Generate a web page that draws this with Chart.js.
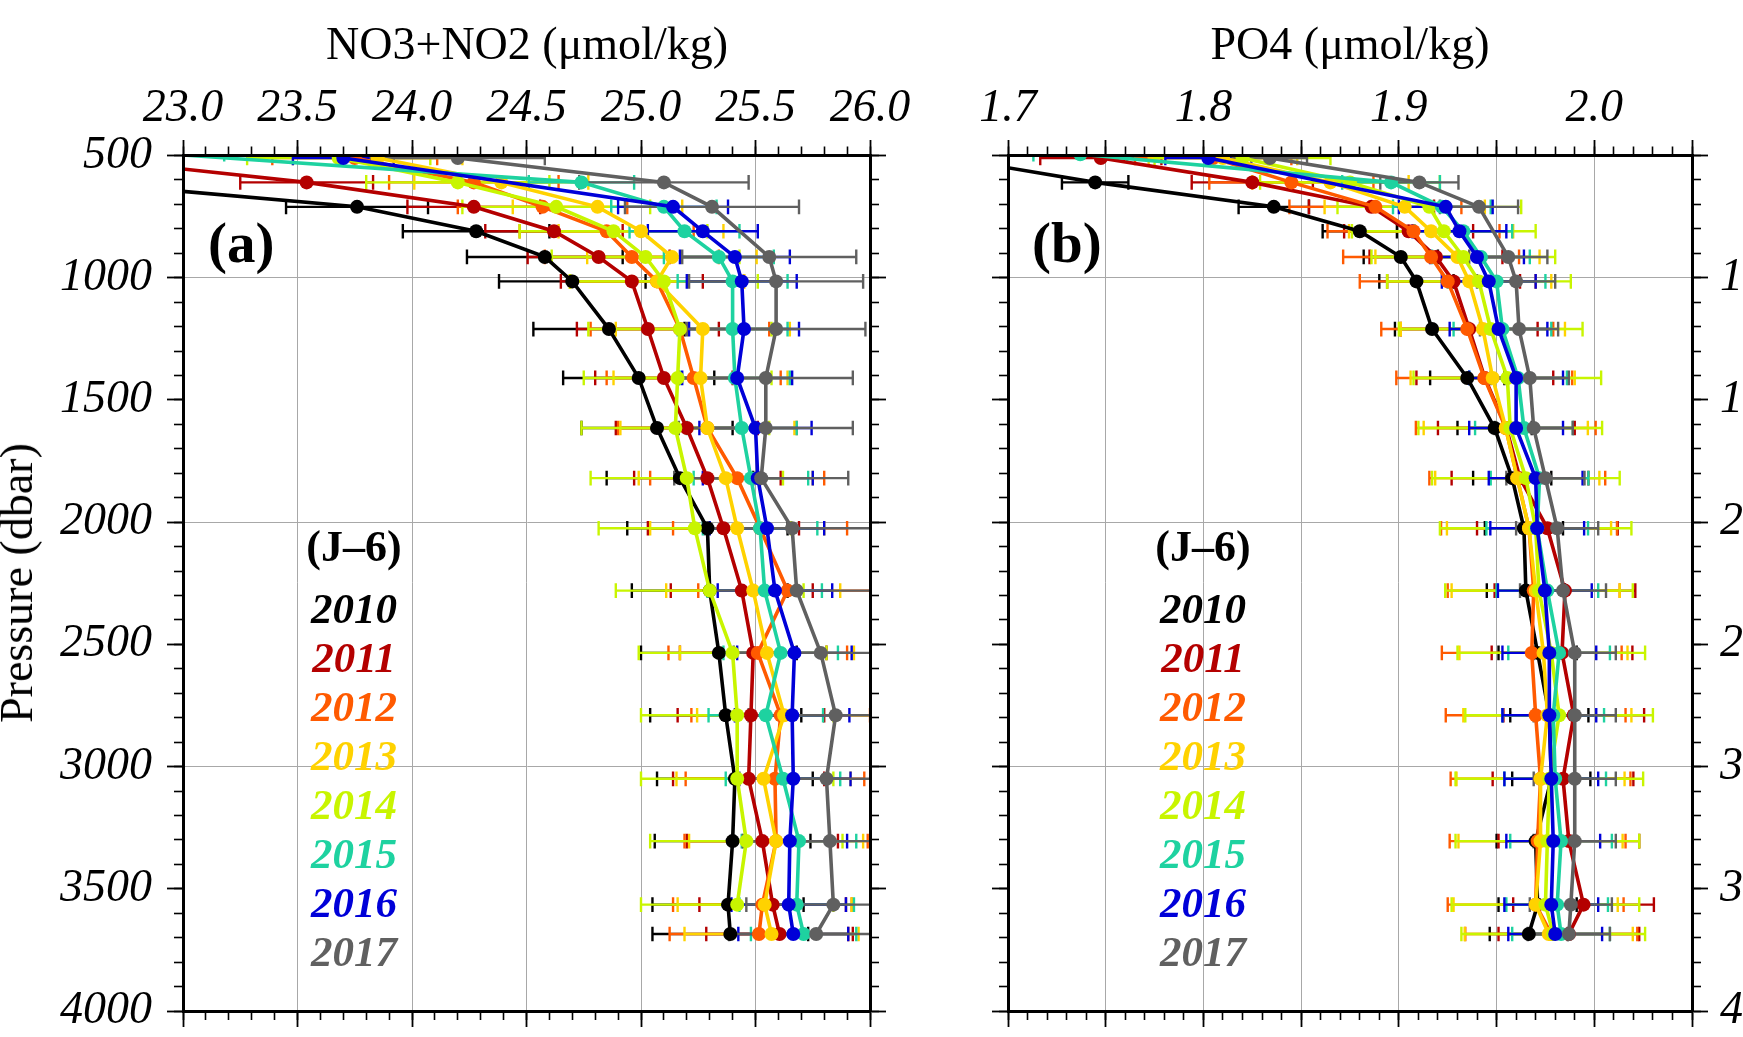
<!DOCTYPE html>
<html>
<head>
<meta charset="utf-8">
<script src="https://cdn.jsdelivr.net/npm/chart.js@4.4.1/dist/chart.umd.min.js"></script>
<style>
html,body{margin:0;padding:0;width:1743px;height:1037px;overflow:hidden;background:#fff;}
canvas{position:absolute;top:0;}
.t{position:absolute;font-family:"Liberation Serif","Times New Roman",serif;color:#000;white-space:nowrap;line-height:1;z-index:5;}
</style>
</head>
<body>
<canvas id="ca" width="960" height="1037" style="left:0px"></canvas>
<canvas id="cb" width="843" height="1037" style="left:900px"></canvas>
<canvas id="cc" width="400" height="1037" style="left:1660px"></canvas>
<script>
// ---------------- data ----------------
const years = ['2010','2011','2012','2013','2014','2015','2016','2017'];
const colors = ['#000000','#b40000','#ff5a00','#ffd200','#c8f500','#1ed2a0','#0000d8','#606060'];
const pressure     = [510,610,710,810,915,1015,1210,1410,1615,1820,2025,2280,2535,2790,3050,3305,3565,3685];
const pressure2015 = [495,610,710,810,915,1015,1210,1410,1615,1820,2025,2280,2535,2790,3050,3305,3565,3685];

const no3Ticks = [23.0,23.5,24.0,24.5,25.0,25.5,26.0];
const po4Ticks = [1.7,1.8,1.9,2.0];
const pressureTicks = [500,1000,1500,2000,2500,3000,3500,4000];

// NO3+NO2 (umol/kg)
const no3_2010 = [21.5,22.56,23.76,24.28,24.58,24.70,24.86,24.99,25.07,25.17,25.29,25.30,25.34,25.37,25.41,25.40,25.38,25.39];
const no3_2011 = [22.55,23.54,24.27,24.62,24.815,24.96,25.03,25.10,25.20,25.29,25.36,25.44,25.49,25.48,25.47,25.53,25.575,25.605];
const no3_2012 = [23.75,24.27,24.57,24.85,24.96,25.07,25.17,25.23,25.29,25.42,25.52,25.64,25.51,25.61,25.585,25.59,25.53,25.515];
const no3_2013 = [23.85,24.39,24.81,25.00,25.135,25.07,25.27,25.26,25.29,25.37,25.42,25.49,25.55,25.625,25.535,25.59,25.54,25.57];
const no3_2014 = [23.68,24.20,24.63,24.88,25.02,25.10,25.17,25.16,25.15,25.20,25.235,25.30,25.40,25.42,25.42,25.46,25.42,null];
const no3_2015 = [22.95,24.74,25.10,25.19,25.34,25.40,25.40,25.41,25.44,25.48,25.52,25.54,25.61,25.545,25.62,25.69,25.68,25.71];
const no3_2016 = [23.70,null,25.14,25.27,25.41,25.44,25.45,25.42,25.50,25.51,25.55,25.585,25.67,25.66,25.665,25.65,25.645,25.665];
const no3_2017 = [24.20,25.10,25.31,null,25.56,25.59,25.59,25.545,25.545,25.525,25.66,25.68,25.785,25.85,25.81,25.825,25.84,25.765];

const no3Err_2010 = [0.30,0.30,0.31,0.32,0.34,0.32,0.33,0.33,0.33,0.32,0.35,0.34,0.34,0.33,0.34,0.34,0.33,0.34];
const no3Err_2011 = [0.30,0.29,0.29,0.30,0.31,0.31,0.31,0.30,0.31,0.32,0.33,0.31,0.32,0.32,0.33,0.33,0.32,0.32];
const no3Err_2012 = [0.36,0.37,0.37,0.38,0.38,0.38,0.39,0.38,0.39,0.38,0.38,0.39,0.39,0.39,0.39,0.40,0.39,0.39];
const no3Err_2013 = [0.37,0.38,0.37,0.36,0.37,0.38,0.38,0.38,0.38,0.38,0.38,0.38,0.38,0.38,0.38,0.38,0.38,0.38];
const no3Err_2014 = [0.40,0.40,0.41,0.41,0.41,0.41,0.40,0.41,0.41,0.42,0.42,0.41,0.41,0.42,0.42,0.42,0.42,0.42];
const no3Err_2015 = [0.23,0.23,0.23,0.24,0.24,0.24,0.24,0.24,0.24,0.25,0.25,0.25,0.25,0.25,0.25,0.25,0.25,0.23];
const no3Err_2016 = [0.22,0.24,0.24,0.24,0.24,0.24,0.24,0.24,0.245,0.24,0.25,0.25,0.25,0.25,0.25,0.25,0.25,0.24];
const no3Err_2017 = [0.38,0.37,0.38,0.38,0.38,0.38,0.39,0.38,0.38,0.38,0.38,0.38,0.38,0.38,0.38,0.38,0.38,0.38];

// PO4 (umol/kg)
const po4_2010 = [1.67,1.7446,1.836,1.880,1.901,1.909,1.917,1.935,1.949,1.958,1.964,1.965,1.971,1.977,1.978,1.970,1.971,1.9665];
const po4_2011 = [1.7475,1.825,1.886,1.905,1.919,1.928,1.936,1.944,1.955,1.962,1.976,1.985,1.9835,1.9895,1.984,1.987,1.9945,1.987];
const po4_2012 = [1.805,1.845,1.888,1.9075,1.9165,1.925,1.935,1.9437,1.9547,1.9606,1.9666,1.969,1.968,1.970,1.9725,1.971,1.970,1.978];
const po4_2013 = [1.81,1.865,1.903,1.9165,1.930,1.936,1.943,1.948,1.9547,1.9606,1.9666,1.970,1.974,1.976,1.9725,1.9725,1.970,1.9767];
const po4_2014 = [1.82,1.875,1.9156,1.923,1.933,1.941,1.947,1.9555,1.957,1.965,1.970,1.9717,1.978,1.982,1.977,1.976,1.975,1.979];
const po4_2015 = [1.737,1.896,1.922,1.933,1.942,1.950,1.953,1.961,1.964,1.972,1.9708,1.976,1.982,1.979,1.980,1.983,1.981,1.983];
const po4_2016 = [1.8025,null,1.924,1.931,1.940,1.946,1.951,1.960,1.960,1.970,1.9708,1.9747,1.977,1.977,1.978,1.979,1.978,1.980];
const po4_2017 = [1.834,1.9105,1.941,null,1.956,1.960,1.9615,1.967,1.969,1.975,1.981,1.984,1.990,1.990,1.990,1.990,1.988,1.987];

const po4Err_2010 = [0.017,0.017,0.018,0.019,0.019,0.019,0.019,0.019,0.019,0.020,0.020,0.020,0.020,0.020,0.020,0.020,0.020,0.020];
const po4Err_2011 = [0.031,0.031,0.032,0.033,0.034,0.034,0.035,0.035,0.035,0.035,0.036,0.036,0.036,0.036,0.036,0.036,0.036,0.036];
const po4Err_2012 = [0.040,0.042,0.044,0.044,0.045,0.045,0.044,0.045,0.046,0.045,0.045,0.044,0.046,0.046,0.046,0.045,0.045,0.044];
const po4Err_2013 = [0.038,0.040,0.041,0.042,0.042,0.042,0.042,0.042,0.042,0.042,0.042,0.043,0.043,0.043,0.043,0.042,0.042,0.043];
const po4Err_2014 = [0.045,0.046,0.047,0.047,0.047,0.047,0.047,0.048,0.047,0.048,0.049,0.048,0.048,0.048,0.048,0.047,0.048,0.047];
const po4Err_2015 = [0.024,0.025,0.025,0.025,0.025,0.025,0.025,0.025,0.025,0.025,0.026,0.026,0.026,0.026,0.026,0.026,0.026,0.025];
const po4Err_2016 = [0.022,0.024,0.024,0.024,0.024,0.024,0.025,0.024,0.024,0.024,0.024,0.024,0.024,0.024,0.024,0.024,0.024,0.024];
const po4Err_2017 = [0.019,0.020,0.020,0.020,0.020,0.020,0.020,0.020,0.020,0.020,0.021,0.022,0.021,0.021,0.021,0.021,0.021,0.021];

const no3Series = [no3_2010,no3_2011,no3_2012,no3_2013,no3_2014,no3_2015,no3_2016,no3_2017];
const no3Errors = [no3Err_2010,no3Err_2011,no3Err_2012,no3Err_2013,no3Err_2014,no3Err_2015,no3Err_2016,no3Err_2017];
const po4Series = [po4_2010,po4_2011,po4_2012,po4_2013,po4_2014,po4_2015,po4_2016,po4_2017];
const po4Errors = [po4Err_2010,po4Err_2011,po4Err_2012,po4Err_2013,po4Err_2014,po4Err_2015,po4Err_2016,po4Err_2017];

// ---------------- helpers ----------------
const FONT = "'Liberation Serif','Times New Roman',serif";
const CAP = 30; // half height of error bar caps, dbar
const isMult = (v, s) => Math.abs(v / s - Math.round(v / s)) < 1e-6;
const inList = (v, list) => list.some(t => Math.abs(t - v) < 1e-6);

function levelsFor(i) { return i === 5 ? pressure2015 : pressure; }

function profileData(vals, lev) {
  return vals.map((v, k) => v == null ? {x: null, y: null} : {x: v, y: lev[k]});
}
function errorData(vals, errs, lev) {
  const pts = [];
  const gap = {x: null, y: null};
  vals.forEach((v, k) => {
    if (v == null) return;
    const p = lev[k], e = errs[k];
    pts.push({x: v - e, y: p}, {x: v + e, y: p}, gap,
             {x: v - e, y: p - CAP}, {x: v - e, y: p + CAP}, gap,
             {x: v + e, y: p - CAP}, {x: v + e, y: p + CAP}, gap);
  });
  return pts;
}
function buildDatasets(series, errors) {
  const ds = [];
  series.forEach((vals, i) => {
    ds.push({
      data: errorData(vals, errors[i], levelsFor(i)),
      borderColor: colors[i], borderWidth: 2.4, pointRadius: 0, pointHoverRadius: 0,
      spanGaps: false, fill: false, order: 200 - i, clip: 0
    });
  });
  series.forEach((vals, i) => {
    ds.push({
      data: profileData(vals, levelsFor(i)),
      borderColor: colors[i], backgroundColor: colors[i], borderWidth: 3.6,
      pointRadius: 7, pointBorderWidth: 0, pointBackgroundColor: colors[i], pointHoverRadius: 7,
      spanGaps: true, fill: false, order: 20 - i, clip: 0
    });
  });
  return ds;
}

const fixH = h => s => { s.height = h; s.paddingLeft = 0; s.paddingRight = 0; s.paddingTop = 0; s.paddingBottom = 0; };
const fixW = w => s => { s.width = w; s.paddingLeft = 0; s.paddingRight = 0; s.paddingTop = 0; s.paddingBottom = 0; };
const tickFont = {family: FONT, size: 46, style: 'italic', lineHeight: 1.2};
const BORDER = {display: true, color: '#000', width: 3, z: 1};

function panelScales(c) {
  const gridCol = step => ctx => (ctx.tick && isMult(ctx.tick.value, step)) ? '#a8a8a8' : 'rgba(0,0,0,0)';
  const baseX = {type: 'linear', axis: 'x', min: c.xmin, max: c.xmax};
  const baseY = {type: 'linear', axis: 'y', min: 500, max: 4000, reverse: true};
  const majTick = (len) => ({drawOnChartArea: false, drawTicks: true, tickLength: len, tickColor: '#000', tickWidth: 1.8, color: '#000'});
  return {
    x: Object.assign({}, baseX, {
      position: 'bottom', afterFit: fixH(20),
      ticks: {display: false, stepSize: c.xminor, autoSkip: false, maxRotation: 0, minRotation: 0},
      grid: {color: gridCol(c.xgrid), lineWidth: 1, tickColor: '#000', tickWidth: 1.6, tickLength: 9},
      border: BORDER
    }),
    x2: Object.assign({}, baseX, {
      position: 'top', afterFit: fixH(155.5),
      ticks: {display: true, stepSize: c.xminor, autoSkip: false, maxRotation: 0, minRotation: 0, padding: 10,
              font: tickFont, color: '#000',
              callback: v => inList(v, c.xlabels) ? v.toFixed(1) : ''},
      grid: {drawOnChartArea: false, tickColor: '#000', tickWidth: 1.6, tickLength: 9},
      border: BORDER
    }),
    y: Object.assign({}, baseY, {
      position: 'left', afterFit: fixW(c.leftW),
      ticks: {display: c.ylabels, stepSize: 100, autoSkip: false, padding: 22, font: tickFont, color: '#000',
              callback: v => inList(v, pressureTicks) ? String(Math.round(v)) : ''},
      grid: {color: gridCol(1000), lineWidth: 1, tickColor: '#000', tickWidth: 1.6, tickLength: 9},
      border: BORDER
    }),
    y2: Object.assign({}, baseY, {
      position: 'right', afterFit: fixW(20),
      ticks: {display: false, stepSize: 100, autoSkip: false},
      grid: {drawOnChartArea: false, tickColor: '#000', tickWidth: 1.6, tickLength: 9},
      border: BORDER
    }),
    xMT: Object.assign({}, baseX, {position: {y: 500}, ticks: {display: false, stepSize: c.xmajor, autoSkip: false}, grid: majTick(-16), border: {display: false}}),
    xMB: Object.assign({}, baseX, {position: {y: 4000}, ticks: {display: false, stepSize: c.xmajor, autoSkip: false}, grid: majTick(16), border: {display: false}}),
    yML: Object.assign({}, baseY, {position: {x: c.xmin}, ticks: {display: false, stepSize: 500, autoSkip: false}, grid: majTick(16), border: {display: false}}),
    yMR: Object.assign({}, baseY, {position: {x: c.xmax}, ticks: {display: false, stepSize: 500, autoSkip: false}, grid: majTick(-16), border: {display: false}})
  };
}

const commonOpts = {
  responsive: false, animation: false, devicePixelRatio: 1, events: [],
  plugins: {legend: {display: false}, tooltip: {enabled: false}, title: {display: false}}
};

new Chart(document.getElementById('ca'), {
  type: 'line',
  data: {datasets: buildDatasets(no3Series, no3Errors)},
  options: Object.assign({}, commonOpts, {
    layout: {padding: {left: 0, right: 70, top: 0, bottom: 6}},
    scales: panelScales({xmin: 23, xmax: 26, xminor: 0.1, xmajor: 0.5, xgrid: 0.5, xlabels: no3Ticks, leftW: 183, ylabels: true})
  })
});

new Chart(document.getElementById('cb'), {
  type: 'line',
  data: {datasets: buildDatasets(po4Series, po4Errors)},
  options: Object.assign({}, commonOpts, {
    layout: {padding: {left: 0, right: 31, top: 0, bottom: 6}},
    scales: panelScales({xmin: 1.7, xmax: 2.05, xminor: 0.01, xmajor: 0.05, xgrid: 0.05, xlabels: po4Ticks, leftW: 108, ylabels: false})
  })
});

// third panel (mostly outside the picture): only its pressure labels show
new Chart(document.getElementById('cc'), {
  type: 'line',
  data: {datasets: []},
  options: Object.assign({}, commonOpts, {
    layout: {padding: {left: 0, right: 0, top: 155.5, bottom: 26}},
    scales: {
      x: {type: 'linear', min: 0, max: 1, display: false},
      y: {type: 'linear', position: 'left', reverse: true, min: 500, max: 4000, afterFit: fixW(174),
          ticks: {stepSize: 500, autoSkip: false, padding: 22, font: tickFont, color: '#000',
                  callback: v => String(Math.round(v))},
          grid: {drawOnChartArea: false, drawTicks: false}, border: {display: false}}
    }
  })
});

// ---------------- text ----------------
function addText(txt, css) {
  const d = document.createElement('div');
  d.className = 't';
  d.textContent = txt;
  Object.assign(d.style, css);
  document.body.appendChild(d);
  return d;
}
// baseline -> top with line-height 1 : top = baseline - 0.8375*size
const topFor = (baseline, size) => (baseline - 0.8375 * size) + 'px';

addText('NO3+NO2 (\u03bcmol/kg)', {left: '527px', top: topFor(60, 46), fontSize: '46px', transform: 'translateX(-50%)'});
addText('PO4 (\u03bcmol/kg)', {left: '1350px', top: topFor(60, 46), fontSize: '46px', transform: 'translateX(-50%)'});
addText('Pressure (dbar)', {left: '16.5px', top: '583px', fontSize: '46px', transform: 'translate(-50%,-50%) rotate(-90deg)'});
addText('(a)', {left: '208px', top: topFor(262, 57), fontSize: '57px', fontWeight: 'bold'});
addText('(b)', {left: '1032px', top: topFor(262, 57), fontSize: '57px', fontWeight: 'bold'});

[354, 1203].forEach(cx => {
  addText('(J\u20136)', {left: cx + 'px', top: topFor(562, 44), fontSize: '44px', fontWeight: 'bold', transform: 'translateX(-50%)'});
  years.forEach((y, i) => {
    addText(y, {left: cx + 'px', top: topFor(623 + 49 * i, 43), fontSize: '43px', fontWeight: 'bold', fontStyle: 'italic',
                color: colors[i], transform: 'translateX(-50%)'});
  });
});
</script>
</body>
</html>
